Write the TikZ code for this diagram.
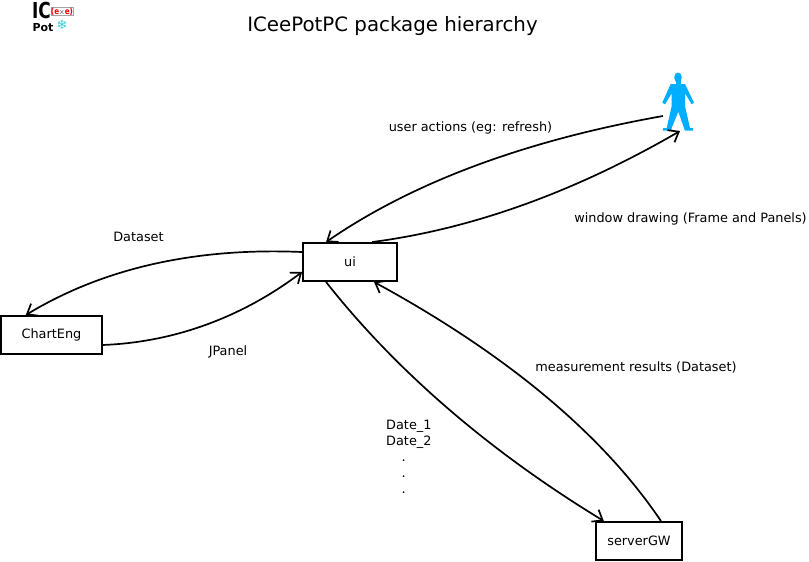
\documentclass[tikz,border=0pt]{standalone}
\usepackage{fontspec}
\setmainfont{DejaVu Sans}
\usetikzlibrary{positioning,calc,arrows.meta}

\begin{document}
\begin{tikzpicture}[
  x=1pt,y=-1pt,
  every node/.style={font=\fontsize{12.85}{16}\selectfont,inner sep=0pt},
  pkg-box/.style={draw,line width=1.9pt,inner sep=0pt},
  flow-edge/.style={draw,line width=1.7pt,-{Straight Barb[length=9pt,width=14pt,line width=1.7pt]}},
  ]
  \definecolor{figure-blue}{HTML}{00AEFF}
  \definecolor{logo-teal}{HTML}{3CC8D2}
  \useasboundingbox (0,0) rectangle (809,562);

  % logo
  \node [transform shape,xscale=0.77,font=\bfseries\fontsize{22}{22}\selectfont] (logo-ic) at (41.5,10.5) {IC};
  \node [font=\bfseries\fontsize{11}{11}\selectfont] (logo-pot) at (43,27.5) {Pot};
  \node [transform shape,xscale=0.85,draw=black!35,line width=0.4pt,text=red,inner sep=0.3pt,font=\bfseries\fontsize{8.5}{8.5}\selectfont] (logo-exe) at (62,11.5) {(e{\color{black}\(\times\)}e)};
  \node [text=logo-teal,font=\bfseries\fontsize{13}{13}\selectfont] (logo-star) at (62,25) {❄};

  \node [font=\fontsize{19.8}{22}\selectfont] (title) at (392.5,26) {ICeePotPC package hierarchy};

  % packages
  \node [pkg-box,minimum width=94pt,minimum height=38pt] (ui) at (350,262) {ui};
  \node [pkg-box,minimum width=101pt,minimum height=38pt] (charteng) at (51.5,335) {ChartEng};
  \node [pkg-box,minimum width=86pt,minimum height=38pt] (servergw) at (639,541) {serverGW};

  % user figure
  \node [minimum width=32pt,minimum height=58pt] (user) at (678,102) {};
  \fill [figure-blue] (678,77.5) ellipse [x radius=3.8,y radius=5];
  \fill [figure-blue] (675.5,81) rectangle (680.5,85);
  \fill [figure-blue] (670.7,84) -- (685,84) -- (694,102.7) -- (691.7,104.3) -- (685,93.3)
    -- (685,106) -- (690,128) -- (693,128) -- (693,130.7) -- (685,130.7) -- (684,128)
    -- (678.3,111.7) -- (671.7,128) -- (671.7,130.7) -- (662.7,130.7) -- (663.3,128)
    -- (666.7,128) -- (671.7,106) -- (671.7,93.3) -- (665,104.3) -- (662.3,102.7) -- cycle;
  \coordinate (user-out) at (663,116);
  \coordinate (user-in) at (680,131);

  % flows
  \draw [flow-edge] (user-out) .. controls (523.7,140.7) and (411.7,183) .. ($(ui.north west)!0.25!(ui.north east)$);
  \draw [flow-edge] ($(ui.north west)!0.73!(ui.north east)$) .. controls (473,228.9) and (575.7,191.5) .. (user-in);
  \draw [flow-edge] ($(ui.north west)!0.25!(ui.south west)$) .. controls (194.3,247.3) and (102.3,268.7) .. ($(charteng.north west)!0.25!(charteng.north east)$);
  \draw [flow-edge] ($(charteng.north east)!0.75!(charteng.south east)$) .. controls (179.3,342) and (246.3,314) .. ($(ui.north west)!0.75!(ui.south west)$);
  \draw [flow-edge] ($(ui.south west)!0.25!(ui.south east)$) .. controls (395.7,370.3) and (488.3,450.7) .. ($(servergw.north west)!0.1!(servergw.north east)$);
  \draw [flow-edge] ($(servergw.north west)!0.75!(servergw.north east)$) .. controls (603.3,435.3) and (508,355) .. ($(ui.south west)!0.75!(ui.south east)$);

  % labels
  \node (lbl-actions) at (470.5,127.5) {user actions (eg: refresh)};
  \node (lbl-window) at (690.5,219) {window drawing (Frame and Panels)};
  \node (lbl-dataset) at (138.5,237) {Dataset};
  \node (lbl-jpanel) at (228,351.5) {JPanel};
  \node (lbl-results) at (636,367) {measurement results (Dataset)};
  \node [anchor=north west,align=left] (lbl-dates) at (386,419.5) {Date\_1\\Date\_2\\\hspace*{15.5pt}.\\\hspace*{15.5pt}.\\\hspace*{15.5pt}.};
\end{tikzpicture}
\end{document}
